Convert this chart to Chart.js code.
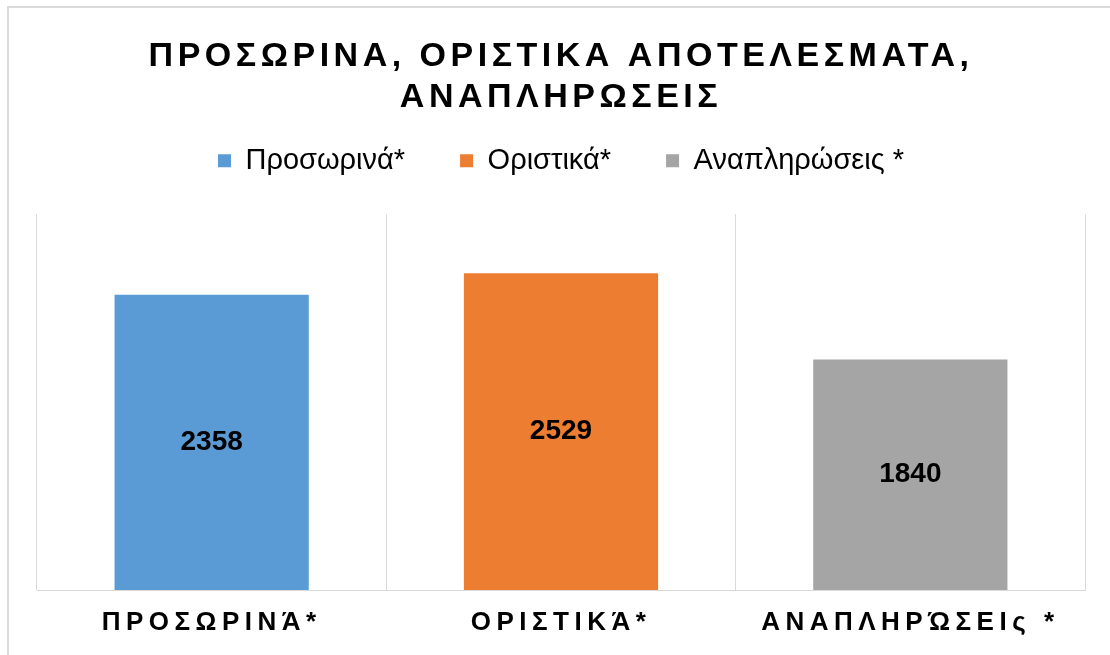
<!DOCTYPE html>
<html>
<head>
<meta charset="utf-8">
<script src="https://cdn.jsdelivr.net/npm/chart.js@4"></script>
<style>
  html, body { margin: 0; padding: 0; background: #fff; overflow: hidden; }
  #wrap { position: relative; width: 1110px; height: 655px; }
  #frame { position: absolute; left: 7px; top: 6px; width: 1300px; height: 900px;
           border: 2px solid #d9d9d9; box-sizing: border-box; pointer-events: none; }
</style>
</head>
<body>
<div id="wrap">
  <canvas id="myChart"></canvas>
  <div id="frame"></div>
</div>
<script>
// chart data
var titleLines = ['ΠΡΟΣΩΡΙΝΑ, ΟΡΙΣΤΙΚΑ ΑΠΟΤΕΛΕΣΜΑΤΑ,', 'ΑΝΑΠΛΗΡΩΣΕΙΣ'];
var categories = ['Προσωρινά*', 'Οριστικά*', 'Αναπληρώσεις *'];
var tickLabels = ['ΠΡΟΣΩΡΙΝΆ*', 'ΟΡΙΣΤΙΚΆ*', 'ΑΝΑΠΛΗΡΏΣΕΙς *'];
var values = [2358, 2529, 1840];
var colors = ['#5B9BD5', '#ED7D31', '#A5A5A5'];
var yMax = 3000;

var FONT = "'Liberation Sans', Arial, sans-serif";

// values written in the middle of each bar
var barValues = {
    id: 'barValues',
    afterDatasetsDraw(chart) {
        var ctx = chart.ctx;
        var meta = chart.getDatasetMeta(0);
        ctx.save();
        ctx.font = 'bold 28px ' + FONT;
        ctx.fillStyle = '#000';
        ctx.textAlign = 'center';
        ctx.textBaseline = 'middle';
        meta.data.forEach(function (bar, i) {
            ctx.fillText(String(values[i]), bar.x, (bar.y + bar.base) / 2);
        });
        ctx.restore();
    }
};

// spaced-out letters for the title and the category labels,
// and a taller legend box so the plot starts lower
var tweaks = {
    id: 'tweaks',
    beforeLayout(chart) {
        var lg = chart.legend;
        if (lg && !lg._tw) {
            var fit = lg.fit;
            lg.fit = function () {
                fit.apply(lg, arguments);
                lg.height += 29;
            };
            lg._tw = true;
        }
    },
    beforeDraw(chart) {
        var wrap = function (obj, name, sp) {
            if (!obj || obj['_sp_' + name]) return;
            var orig = obj[name];
            obj[name] = function () {
                var ctx = chart.ctx;
                var old = ctx.letterSpacing;
                ctx.letterSpacing = sp;
                orig.apply(obj, arguments);
                ctx.letterSpacing = old || '0px';
            };
            obj['_sp_' + name] = true;
        };
        wrap(chart.titleBlock, 'draw', '4.5px');
        wrap(chart.scales.x, 'drawLabels', '5.5px');
    }
};

var ctx = document.getElementById('myChart').getContext('2d');
new Chart(ctx, {
    type: 'bar',
    data: {
        labels: tickLabels,
        datasets: [{
            data: values,
            backgroundColor: colors,
            borderWidth: 0,
            barPercentage: 0.556,
            categoryPercentage: 1
        }]
    },
    options: {
        responsive: true,
        maintainAspectRatio: false,
        animation: false,
        layout: { padding: { left: 37, right: 25, top: 0, bottom: 0 } },
        plugins: {
            tooltip: { enabled: false },
            title: {
                display: true,
                text: titleLines,
                color: '#000',
                font: { family: FONT, size: 34, weight: 'bold', lineHeight: 1.18 },
                padding: { top: 37, bottom: -26 }
            },
            legend: {
                display: true,
                onClick: null,
                labels: {
                    color: '#222',
                    font: { family: FONT, size: 29 },
                    boxWidth: 13,
                    boxHeight: 13,
                    padding: 55,
                    generateLabels: function () {
                        return categories.map(function (c, i) {
                            return { text: c, fillStyle: colors[i], strokeStyle: colors[i], lineWidth: 0, index: i };
                        });
                    }
                }
            }
        },
        scales: {
            x: {
                grid: { color: '#d9d9d9', offset: true, drawTicks: false },
                border: { color: '#d9d9d9' },
                ticks: {
                    color: '#000',
                    font: { family: FONT, size: 26, weight: 'bold' },
                    padding: 17,
                    maxRotation: 0
                },
                afterFit: function (scale) { scale.height = 65; }
            },
            y: {
                display: false,
                min: 0,
                max: yMax
            }
        }
    },
    plugins: [barValues, tweaks]
});
</script>
</body>
</html>
